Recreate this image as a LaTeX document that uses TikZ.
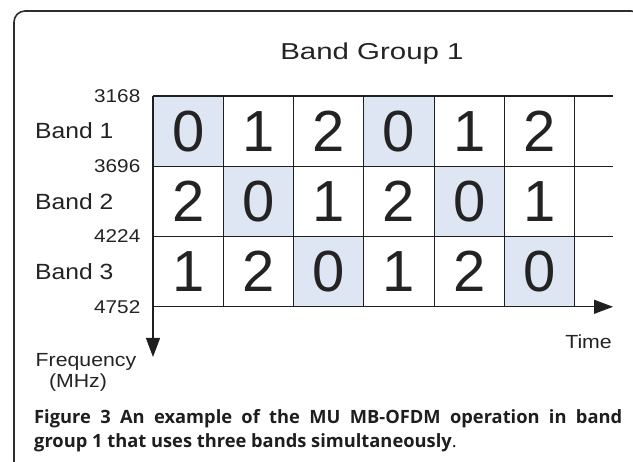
\documentclass[tikz,border=0pt]{standalone}
\usepackage{fontspec}
\setmainfont{Liberation Sans}
\newfontfamily\labfont[FakeStretch=1.12]{Liberation Sans}
\newfontfamily\headfont[FakeStretch=1.28]{Liberation Sans}
\newfontfamily\capfont{Open Sans}
\usetikzlibrary{arrows.meta}
\definecolor{cellblue}{RGB}{222,230,243}
\definecolor{framegray}{RGB}{45,45,45}
\definecolor{inkgray}{RGB}{35,35,35}
\definecolor{capgray}{RGB}{30,30,30}

\tikzset{
  cellbox/.style={minimum width=70.3pt, minimum height=70.27pt, inner sep=0pt,
    draw=none, font=\fontsize{58}{60}\selectfont, text=inkgray},
  gridline/.style={line width=1.1pt, draw=black!88},
  axisline/.style={line width=1.1pt, draw=black!88,
    -{Triangle[length=19pt,width=14pt]}},
  bandlabel/.style={font=\labfont\fontsize{22}{24}\selectfont, text=inkgray,
    anchor=west, inner sep=0pt},
  freqlabel/.style={font=\labfont\fontsize{18.5}{20}\selectfont, text=inkgray,
    anchor=east, inner sep=0pt},
  axislabel/.style={font=\labfont\fontsize{19}{21}\selectfont, text=inkgray,
    inner sep=0pt},
  capline/.style={font=\capfont\bfseries\fontsize{18.3}{22}\selectfont,
    text=capgray, anchor=base west, inner sep=0pt}
}

\begin{document}
\begin{tikzpicture}[x=1pt,y=-1pt]
  \useasboundingbox (0,0) rectangle (633,462);

  % rounded frame, running off the right and bottom edges
  \begin{scope}
    \clip (0,0) rectangle (633,462);
    \draw[framegray, line width=1.6pt, rounded corners=11pt]
      (14,11) rectangle (642,490);
  \end{scope}

  % title
  \node[font=\headfont\fontsize{23}{26}\selectfont, text=inkgray,
    anchor=base, inner sep=0pt] (title) at (372,59.5) {Band Group 1};

  % grid geometry
  \def\xo{153}\def\cw{70.3}
  \def\yo{96}\def\rh{70.27}

  % cells: hopping pattern, shaded where the symbol is 0
  \foreach \r in {0,1,2}{
    \foreach \c in {0,...,5}{
      \pgfmathtruncatemacro\d{mod(\c-\r+3,3)}
      \pgfmathsetmacro\cx{\xo+\cw*(\c+0.5)}
      \pgfmathsetmacro\cy{\yo+\rh*(\r+0.5)}
      \ifnum\d=0
        \node[cellbox, fill=cellblue] (cell-\r-\c) at (\cx,\cy) {\d};
      \else
        \node[cellbox] (cell-\r-\c) at (\cx,\cy) {\d};
      \fi
    }
  }

  % axis end points
  \coordinate (origin) at (\xo,\yo);
  \coordinate (corner) at (\xo,306.8);
  \coordinate (timeend) at (613,306.8);
  \coordinate (freqend) at (\xo,357);

  % horizontal band edges
  \foreach \r in {0,1,2}{
    \pgfmathsetmacro\ly{\yo+\rh*\r}
    \draw[gridline] (\xo,\ly) -- (613,\ly);
  }
  % vertical slot edges
  \foreach \c in {1,...,6}{
    \pgfmathsetmacro\lx{\xo+\cw*\c}
    \draw[gridline] (\lx,\yo) -- (\lx,306.8);
  }

  % time and frequency axes
  \draw[axisline] (corner) -- (timeend);
  \draw[axisline] (origin) -- (freqend);

  % band names
  \node[bandlabel] (b1) at (35,131) {Band 1};
  \node[bandlabel] (b2) at (35,201.3) {Band 2};
  \node[bandlabel] (b3) at (35,271.6) {Band 3};

  % band edge frequencies
  \node[freqlabel] (f1) at (140.5,96) {3168};
  \node[freqlabel] (f2) at (140.5,166.3) {3696};
  \node[freqlabel] (f3) at (140.5,236.5) {4224};
  \node[freqlabel] (f4) at (140.5,306.8) {4752};

  % axis names
  \node[axislabel, anchor=east] (time) at (612,342) {Time};
  \node[axislabel] (freq) at (86,362) {Frequency};
  \node[axislabel] (mhz) at (78,383) {(MHz)};

  % caption
  \node[capline] (cap1) at (34,424)
    {\makebox[588pt][s]{Figure 3 An example of the MU MB-OFDM operation in band}};
  \node[capline] (cap2) at (34,448)
    {group 1 that uses three bands simultaneously{\mdseries .}};
\end{tikzpicture}
\end{document}
